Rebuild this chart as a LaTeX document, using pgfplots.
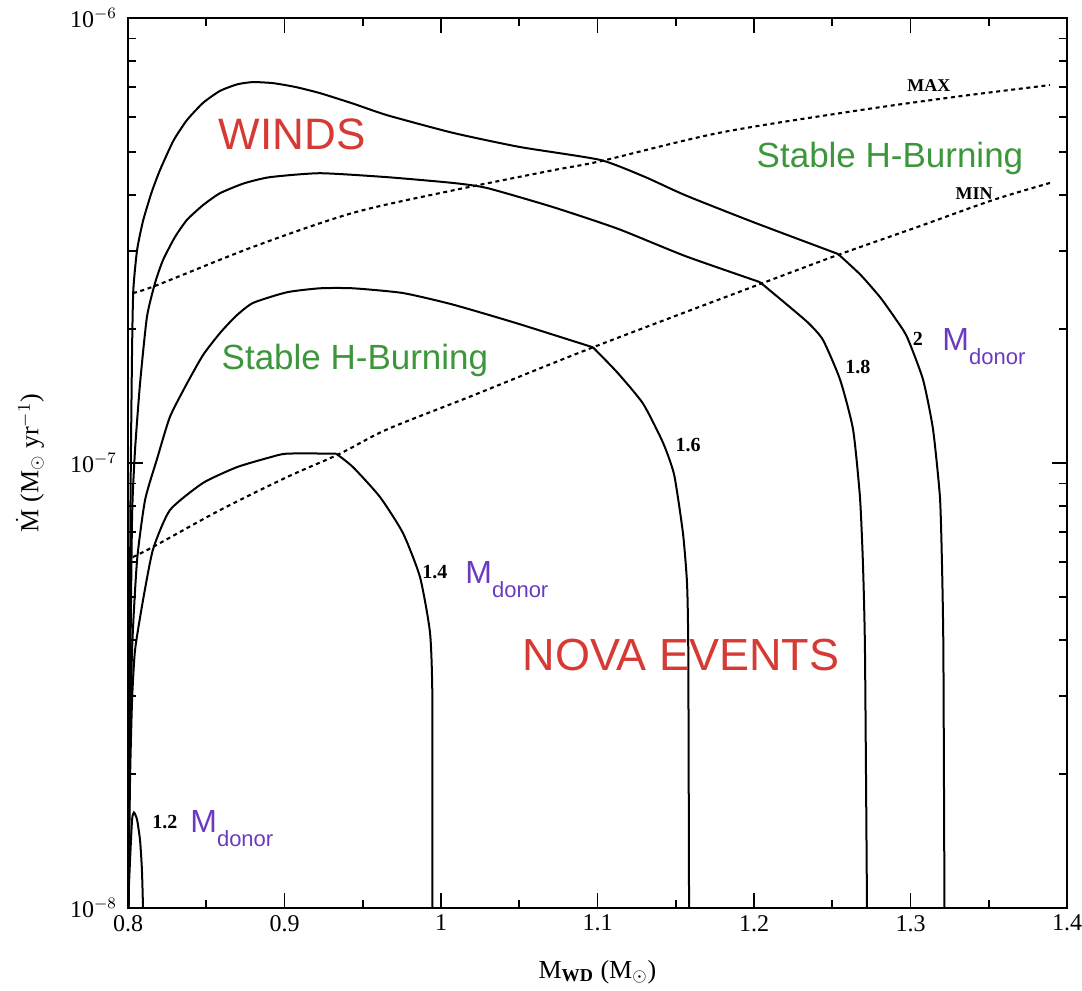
\documentclass[border=0pt]{standalone}
\usepackage{fontspec}
\setmainfont{Liberation Serif}
\setsansfont{Liberation Sans}
\usepackage{pgfplots}
\pgfplotsset{compat=1.18}
\definecolor{wred}{RGB}{214,58,52}
\definecolor{sgreen}{RGB}{60,150,60}
\definecolor{mpurple}{RGB}{108,58,192}
\pgfplotsset{curve/.style={black, line width=1pt, smooth, tension=0.35, no markers, solid},
  limit/.style={black, no markers, line width=1.05pt, dash pattern=on 2pt off 1.8pt, smooth, tension=0.5}}
\begin{document}
\begin{tikzpicture}
\begin{axis}[
  scale only axis, width=469.5pt, height=445pt,
  xmin=0.8, xmax=1.4, ymode=log, ymin=1e-8, ymax=1e-6,
  xtick={0.8,0.9,1.0,1.1,1.2,1.3,1.4},
  xticklabels={0.8,0.9,1,1.1,1.2,1.3,1.4},
  minor xtick={0.85,0.95,1.05,1.15,1.25,1.35},
  ytick={1e-8,1e-7,1e-6},
  yticklabels={10$^{-8}$,10$^{-7}$,10$^{-6}$},
  minor ytick={2e-8,3e-8,4e-8,5e-8,6e-8,7e-8,8e-8,9e-8,2e-7,3e-7,4e-7,5e-7,6e-7,7e-7,8e-7,9e-7},
  tick align=inside, major tick length=7.5pt, minor tick length=4pt,
  axis line style={line width=1pt},
  every tick/.style={line width=0.8pt, black},
  tick label style={font=\fontsize{12}{12}\selectfont},
  yticklabel style={xshift=-2pt},
  xlabel={M\textsubscript{\bfseries WD} (M\textsubscript{$\odot$})},
  ylabel={$\dot{\mathrm{M}}$ (M\textsubscript{$\odot$} yr$^{-1}$)},
  label style={font=\fontsize{13}{13}\selectfont},
  xlabel style={at={(axis description cs:0.5,-0.0719)}, anchor=center},
  ylabel style={at={(axis description cs:-0.1044,0.5)}, anchor=center},
  clip=true,
]
% 2.0 Msun donor
\addplot[curve] table {
0.8003 1.00e-8
0.8010 2.93e-8
0.8016 8.26e-8
0.8026 1.79e-7
0.8034 2.45e-7
0.8058 3.01e-7
0.8096 3.50e-7
0.8150 4.05e-7
0.8204 4.55e-7
0.8290 5.30e-7
0.8377 5.90e-7
0.8480 6.45e-7
0.8588 6.86e-7
0.8700 7.10e-7
0.8799 7.18e-7
0.8927 7.14e-7
0.9070 7.00e-7
0.9227 6.78e-7
0.9440 6.42e-7
0.9655 6.05e-7
1.0077 5.52e-7
1.0505 5.13e-7
1.1016 4.80e-7
1.1300 4.40e-7
1.1559 4.00e-7
1.1994 3.48e-7
1.2537 2.95e-7
};
\addplot[curve] table {
1.2537 2.95e-7
1.2680 2.65e-7
1.2805 2.36e-7
1.2900 2.12e-7
1.2978 1.92e-7
1.3080 1.54e-7
1.3144 1.19e-7
1.3188 8.39e-8
1.3201 5.96e-8
1.3210 3.80e-8
1.3217 1.00e-8
};
% 1.8
\addplot[curve] table {
0.8003 1.00e-8
0.8013 2.93e-8
0.8026 7.56e-8
0.8045 1.07e-7
0.8077 1.51e-7
0.8121 2.13e-7
0.8173 2.54e-7
0.8224 2.86e-7
0.8300 3.22e-7
0.8377 3.52e-7
0.8480 3.80e-7
0.8588 4.04e-7
0.8740 4.25e-7
0.8907 4.39e-7
0.9227 4.48e-7
0.9655 4.39e-7
1.0077 4.26e-7
1.0294 4.15e-7
1.0716 3.76e-7
1.1131 3.36e-7
1.1559 2.92e-7
1.2038 2.55e-7
};
\addplot[curve] table {
1.2038 2.55e-7
1.2230 2.24e-7
1.2350 2.06e-7
1.2441 1.89e-7
1.2550 1.54e-7
1.2633 1.19e-7
1.2677 8.39e-8
1.2696 5.96e-8
1.2709 3.80e-8
1.2722 1.00e-8
};
% 1.6
\addplot[curve] table {
0.8003 1.00e-8
0.8006 1.75e-8
0.8026 3.80e-8
0.8058 6.05e-8
0.8109 8.26e-8
0.8185 1.02e-7
0.8268 1.27e-7
0.8377 1.51e-7
0.8480 1.75e-7
0.8588 1.96e-7
0.8690 2.14e-7
0.8799 2.29e-7
0.9016 2.42e-7
0.9227 2.47e-7
0.9438 2.47e-7
0.9757 2.41e-7
1.0077 2.27e-7
1.0486 2.06e-7
1.0971 1.82e-7
};
\addplot[curve] table {
1.0971 1.82e-7
1.1125 1.60e-7
1.1291 1.36e-7
1.1419 1.11e-7
1.1490 9.40e-8
1.1546 6.96e-8
1.1572 5.37e-8
1.1580 3.80e-8
1.1585 1.00e-8
};
% 1.4
\addplot[curve] table {
0.8003 1.00e-8
0.8013 1.94e-8
0.8026 2.93e-8
0.8045 3.80e-8
0.8096 4.92e-8
0.8160 6.40e-8
0.8268 7.84e-8
0.8479 9.02e-8
0.8696 9.79e-8
0.8907 1.03e-7
0.9016 1.05e-7
0.9330 1.05e-7
};
\addplot[curve] table {
0.9330 1.05e-7
0.9438 9.79e-8
0.9610 8.39e-8
0.9757 6.96e-8
0.9866 5.54e-8
0.9930 4.15e-8
0.9945 2.93e-8
0.9945 1.00e-8
};
% 1.2
\addplot[curve] table {
0.8000 1.00e-8
0.8013 1.28e-8
0.8026 1.58e-8
0.8038 1.64e-8
0.8058 1.58e-8
0.8077 1.42e-8
0.8089 1.22e-8
0.8096 1.00e-8
};
% MIN
\addplot[limit] table {
0.8032 6.15e-8
0.8160 6.48e-8
0.8588 7.84e-8
0.9016 9.30e-8
0.9355 1.05e-7
0.9655 1.19e-7
1.0185 1.41e-7
1.0971 1.82e-7
1.2058 2.54e-7
1.2530 2.93e-7
1.3042 3.39e-7
1.3527 3.90e-7
1.3891 4.26e-7
};
% MAX
\addplot[limit] table {
0.8032 2.41e-7
0.8185 2.51e-7
0.8799 3.06e-7
0.9438 3.65e-7
1.0077 4.10e-7
1.0716 4.55e-7
1.1022 4.77e-7
1.1776 5.52e-7
1.2639 6.18e-7
1.3284 6.65e-7
1.3891 7.07e-7
};
% region labels
\node[wred, font=\sffamily\fontsize{22}{22}\selectfont] at (rel axis cs:0.1747,0.8697) {WINDS};
\node[wred, font=\sffamily\fontsize{22.5}{22.5}\selectfont] at (rel axis cs:0.5889,0.2843) {NOVA EVENTS};
\node[sgreen, font=\sffamily\fontsize{17.5}{17.5}\selectfont] at (rel axis cs:0.2417,0.6157) {Stable H-Burning};
\node[sgreen, font=\sffamily\fontsize{17.5}{17.5}\selectfont] at (rel axis cs:0.8115,0.8427) {Stable H-Burning};
% curve labels
\node[font=\bfseries\fontsize{10}{10}\selectfont] at (rel axis cs:0.8413,0.6393) {2};
\node[font=\bfseries\fontsize{10}{10}\selectfont] at (rel axis cs:0.7774,0.6079) {1.8};
\node[font=\bfseries\fontsize{10}{10}\selectfont] at (rel axis cs:0.5964,0.5202) {1.6};
\node[font=\bfseries\fontsize{10}{10}\selectfont] at (rel axis cs:0.3269,0.3775) {1.4};
\node[font=\bfseries\fontsize{10}{10}\selectfont] at (rel axis cs:0.0394,0.0966) {1.2};
\node[font=\bfseries\fontsize{9}{9}\selectfont] at (rel axis cs:0.8530,0.9236) {MAX};
\node[font=\bfseries\fontsize{9}{9}\selectfont] at (rel axis cs:0.9010,0.8022) {MIN};
% M_donor labels
\node[mpurple, anchor=base west, inner sep=0pt, font=\sffamily\fontsize{16}{16}\selectfont] at (rel axis cs:0.8669,0.6270) {M\raisebox{-7pt}{\fontsize{11}{11}\selectfont donor}};
\node[mpurple, anchor=base west, inner sep=0pt, font=\sffamily\fontsize{16}{16}\selectfont] at (rel axis cs:0.3589,0.3652) {M\raisebox{-7pt}{\fontsize{11}{11}\selectfont donor}};
\node[mpurple, anchor=base west, inner sep=0pt, font=\sffamily\fontsize{16}{16}\selectfont] at (rel axis cs:0.0660,0.0854) {M\raisebox{-7pt}{\fontsize{11}{11}\selectfont donor}};
\end{axis}
\pgfresetboundingbox
\path[use as bounding box] ([shift={(-64pt,-41pt)}]current axis.south west) rectangle ([shift={(7.5pt,9pt)}]current axis.north east);
\end{tikzpicture}
\end{document}
